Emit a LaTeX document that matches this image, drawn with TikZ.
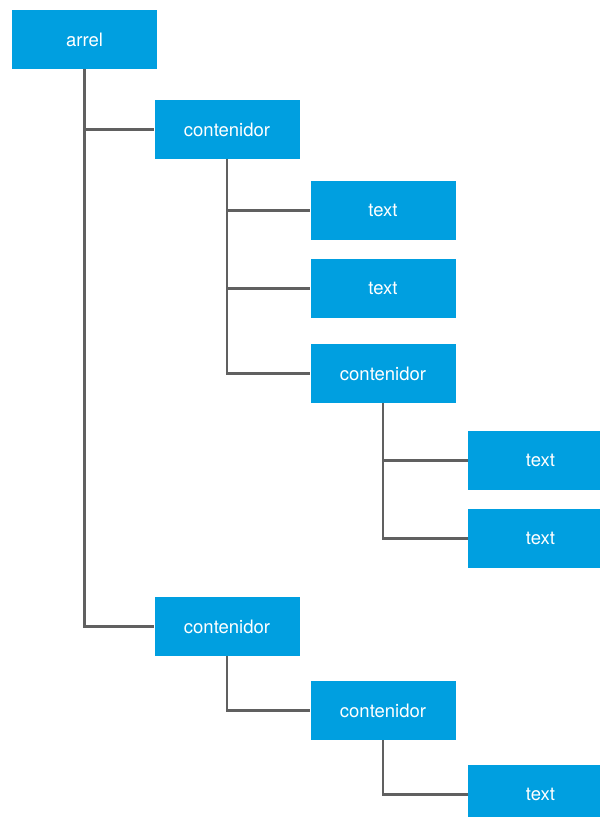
\documentclass[tikz,border=0pt]{standalone}
\usepackage{fontspec}
\setmainfont{TeX Gyre Heros}
\definecolor{boxblue}{HTML}{009FE0}
\definecolor{linegray}{HTML}{606060}
\begin{document}
\begin{tikzpicture}[x=1pt,y=-1pt,
  treebox/.style={rectangle, fill=boxblue, draw=none, minimum width=145pt,
    minimum height=59pt, inner sep=0pt, text=white, font=\fontsize{18.5}{21}\selectfont},
  branch/.style={draw=linegray, line width=2.2pt}]
\useasboundingbox (0,0) rectangle (600,817);
\clip (0,0) rectangle (600,817);
% tree nodes
\node[treebox] (arrel) at (84.5,39.5) {arrel};
\node[treebox] (c1) at (227,129.5) {contenidor};
\node[treebox] (t1) at (383,210.5) {text};
\node[treebox] (t2) at (383,288.5) {text};
\node[treebox] (c2) at (383,373.5) {contenidor};
\node[treebox] (t3) at (540.5,460.5) {text};
\node[treebox] (t4) at (540.5,538.5) {text};
\node[treebox] (c3) at (227,626.5) {contenidor};
\node[treebox] (c4) at (383,710.5) {contenidor};
\node[treebox] (t5) at (540.5,794.5) {text};
% connectors
\draw[branch] (arrel.south) |- (c1.west);
\draw[branch] (arrel.south) |- (c3.west);
\draw[branch] (c1.south) |- (t1.west);
\draw[branch] (c1.south) |- (t2.west);
\draw[branch] (c1.south) |- (c2.west);
\draw[branch] (c2.south) |- (t3.west);
\draw[branch] (c2.south) |- (t4.west);
\draw[branch] (c3.south) |- (c4.west);
\draw[branch] (c4.south) |- (t5.west);
\end{tikzpicture}
\end{document}
